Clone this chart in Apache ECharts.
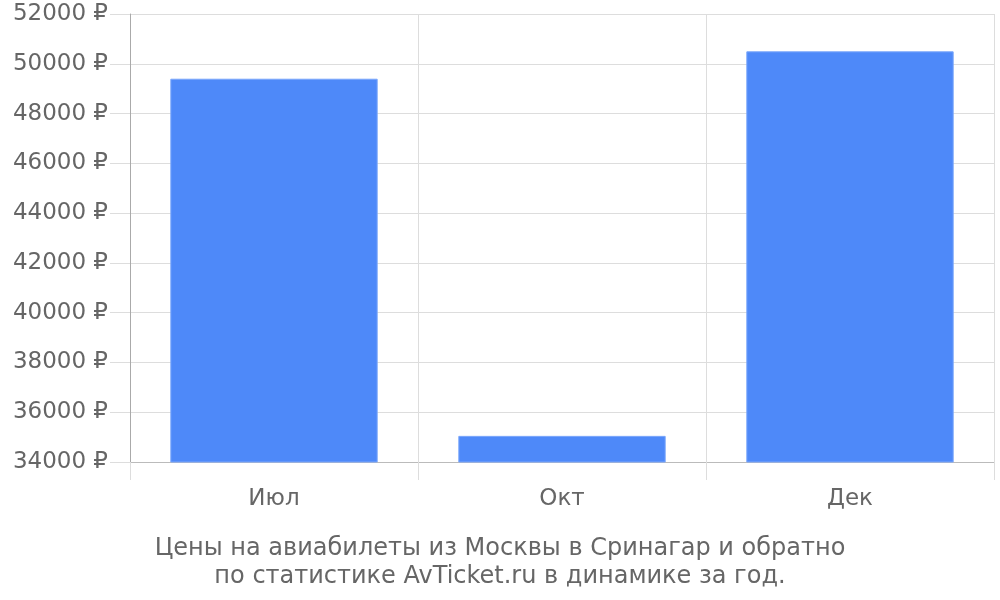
<!DOCTYPE html>
<html>
<head>
<meta charset="utf-8">
<script src="https://cdn.jsdelivr.net/npm/echarts@6/dist/echarts.min.js"></script>
<style>html,body{margin:0;padding:0;background:#fff}#c{width:1000px;height:600px}</style>
</head>
<body>
<div id="c"></div>
<script>
const categories = ['Июл', 'Окт', 'Дек'];
const prices = [49400, 35050, 50500];
const yMin = 34000, yMax = 52000, yStep = 2000;
const titleText = 'Цены на авиабилеты из Москвы в Сринагар и обратно\nпо статистике AvTicket.ru в динамике за год.';

const chart = echarts.init(document.getElementById('c'));
chart.setOption({
  animation: false,
  textStyle: { fontFamily: 'DejaVu Sans' },
  title: {
    text: titleText,
    left: 'center',
    top: 530,
    textStyle: { fontSize: 24, fontWeight: 'normal', color: '#666', lineHeight: 28, fontFamily: 'DejaVu Sans' }
  },
  grid: { left: 130, right: 6, top: 14, bottom: 138, containLabel: false },
  xAxis: {
    type: 'category',
    data: categories,
    axisLine: { show: true, lineStyle: { color: '#bbb', width: 1 } },
    axisTick: { show: true, length: 18, lineStyle: { color: '#ddd' } },
    splitLine: { show: true, lineStyle: { color: '#ddd' } },
    axisLabel: { fontSize: 23, color: '#666', margin: 26 }
  },
  yAxis: {
    type: 'value',
    min: yMin, max: yMax, interval: yStep,
    axisLine: { show: true, lineStyle: { color: '#aaa' } },
    axisTick: { show: true, length: 20, lineStyle: { color: '#ddd' } },
    splitLine: { show: true, lineStyle: { color: '#ddd' } },
    axisLabel: { fontSize: 23, color: '#666', margin: 22, formatter: function (v) { return v + ' ₽'; } }
  },
  series: [{
    type: 'bar',
    data: prices,
    barCategoryGap: '28%',
    itemStyle: { color: '#4e89f9', borderColor: '#7aa6fb', borderWidth: 1 }
  }]
});
</script>
</body>
</html>
